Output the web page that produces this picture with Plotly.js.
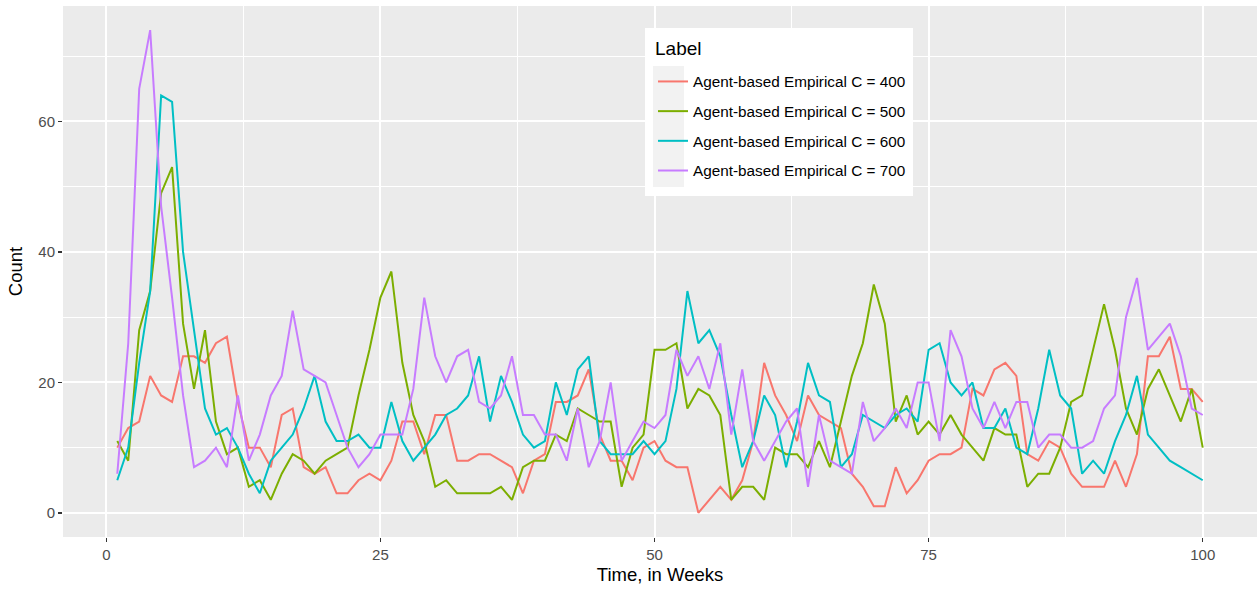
<!DOCTYPE html>
<html>
<head>
<meta charset="utf-8">
<script src="https://cdn.plot.ly/plotly-3.0.1.min.js"></script>
<style>html,body{margin:0;padding:0;background:#fff;}#chart{width:1257px;height:590px;}</style>
</head>
<body>
<div id="chart"></div>
<script>
const weeks = [1,2,3,4,5,6,7,8,9,10,11,12,13,14,15,16,17,18,19,20,
  21,22,23,24,25,26,27,28,29,30,31,32,33,34,35,36,37,38,39,40,
  41,42,43,44,45,46,47,48,49,50,51,52,53,54,55,56,57,58,59,60,
  61,62,63,64,65,66,67,68,69,70,71,72,73,74,75,76,77,78,79,80,
  81,82,83,84,85,86,87,88,89,90,91,92,93,94,95,96,97,98,99,100];

const seriesNames = ["Agent-based Empirical C = 400","Agent-based Empirical C = 500",
  "Agent-based Empirical C = 600","Agent-based Empirical C = 700"];
const seriesColors = ["#F8766D","#7CAE00","#00BFC4","#C77CFF"];
const legendTitle = "Label";

const c400 = [10,13,14,21,18,17,24,24,23,26,27,17,10,10,7,15,16,7,6,7,
  3,3,5,6,5,8,14,14,9,15,15,8,8,9,9,8,7,3,8,9,
  17,17,18,22,12,8,8,5,10,11,8,7,7,0,2,4,2,5,11,23,
  18,15,11,18,15,14,13,6,4,1,1,7,3,5,8,9,9,10,19,18,
  22,23,21,9,8,11,10,6,4,4,4,8,4,9,24,24,27,19,19,17];

const c500 = [11,8,28,34,49,53,29,19,28,14,9,10,4,5,2,6,9,8,6,8,
  9,10,18,25,33,37,23,15,11,4,5,3,3,3,3,4,2,7,8,8,
  12,11,16,15,14,14,4,10,12,25,25,26,16,19,18,15,2,4,4,2,
  10,9,9,7,11,7,14,21,26,35,29,14,18,12,14,12,15,12,10,8,
  13,12,12,4,6,6,10,17,18,25,32,25,16,12,19,22,18,14,19,10];

const c600 = [5,10,23,34,64,63,40,28,16,12,13,10,6,3,8,10,12,16,21,14,
  11,11,12,10,10,17,11,8,10,12,15,16,18,24,14,21,17,12,10,11,
  20,15,22,24,11,9,9,9,11,9,11,19,34,26,28,24,15,7,11,18,
  15,7,14,23,18,17,7,9,15,14,13,15,16,14,25,26,20,18,20,13,
  13,16,10,9,16,25,18,16,6,8,6,11,15,21,12,10,8,7,6,5];

const c700 = [6,26,65,74,47,33,18,7,8,10,7,18,8,12,18,21,31,22,21,20,
  15,10,7,9,12,12,12,19,33,24,20,24,25,17,16,18,24,15,15,12,
  12,8,16,7,11,20,8,11,14,13,15,25,21,24,19,26,12,22,11,8,
  11,14,16,4,15,8,7,6,17,11,13,16,13,20,20,11,28,24,16,13,
  17,13,17,17,10,12,12,10,10,11,16,18,30,36,25,27,29,24,16,15];

const xTicks = [0,25,50,75,100];
const yTicks = [0,20,40,60];
const xMinor = [12.5,37.5,62.5,87.5];
const yMinor = [10,30,50,70];

const seriesValues = [c400,c500,c600,c700];

const traces = seriesValues.map((vals,i) => ({
  type: 'scatter', mode: 'lines', x: weeks, y: vals,
  name: seriesNames[i], legendgroup: 'g'+i,
  line: {color: seriesColors[i], width: 2}
}));

// pixel -> paper helpers for the legend box decoration
const L = 63, R = 1257, T = 6, B = 537;
const px = v => (v - L) / (R - L);
const py = v => 1 - (v - T) / (B - T);

const font = "Liberation Sans, Arial, Helvetica, sans-serif";

const layout = {
  width: 1257, height: 590,
  margin: {l: L, r: 1257 - R, t: T, b: 590 - B, pad: 0},
  paper_bgcolor: '#FFFFFF', plot_bgcolor: '#EBEBEB',
  font: {family: font, color: '#000000'},
  showlegend: true,
  xaxis: {
    range: [-3.95, 104.95], tickmode: 'array', tickvals: xTicks, ticktext: xTicks.map(String),
    showgrid: true, gridcolor: '#FFFFFF', gridwidth: 2, zeroline: false, showline: false,
    ticks: 'outside', ticklen: 4, tickwidth: 1.5, tickcolor: '#333333',
    tickfont: {size: 15, color: '#4D4D4D', family: font},
    minor: {tickmode: 'array', tickvals: xMinor, showgrid: true, gridcolor: '#FFFFFF', gridwidth: 1, ticks: ''},
    title: {text: 'Time, in Weeks', font: {size: 18.5, color: '#000000', family: font}, standoff: 6}
  },
  yaxis: {
    range: [-3.7, 77.7], tickmode: 'array', tickvals: yTicks, ticktext: yTicks.map(String),
    showgrid: true, gridcolor: '#FFFFFF', gridwidth: 2, zeroline: false, showline: false,
    ticks: 'outside', ticklen: 4, tickwidth: 1.5, tickcolor: '#333333',
    tickfont: {size: 15, color: '#4D4D4D', family: font},
    minor: {tickmode: 'array', tickvals: yMinor, showgrid: true, gridcolor: '#FFFFFF', gridwidth: 1, ticks: ''},
    title: {text: 'Count', font: {size: 18.5, color: '#000000', family: font}, standoff: 10}
  },
  legend: {
    x: px(653), y: py(65), xanchor: 'left', yanchor: 'top',
    bgcolor: 'rgba(0,0,0,0)', borderwidth: 0,
    font: {size: 15.3, color: '#000000', family: font},
    tracegroupgap: 6.8, itemwidth: 30, traceorder: 'grouped'
  },
  annotations: [
    {xref: 'paper', yref: 'paper', x: px(653), y: py(48), xanchor: 'left', yanchor: 'middle',
     text: legendTitle, showarrow: false, font: {size: 19, color: '#000000', family: font}}
  ],
  shapes: [
    {type: 'rect', xref: 'paper', yref: 'paper', layer: 'above',
     x0: px(645), x1: px(913), y0: py(28), y1: py(196),
     fillcolor: '#FFFFFF', line: {width: 0}},
    {type: 'rect', xref: 'paper', yref: 'paper', layer: 'above',
     x0: px(653), x1: px(684), y0: py(66), y1: py(187),
     fillcolor: '#F2F2F2', line: {width: 0}}
  ]
};

Plotly.newPlot('chart', traces, layout, {displayModeBar: false, staticPlot: true});
</script>
</body>
</html>
